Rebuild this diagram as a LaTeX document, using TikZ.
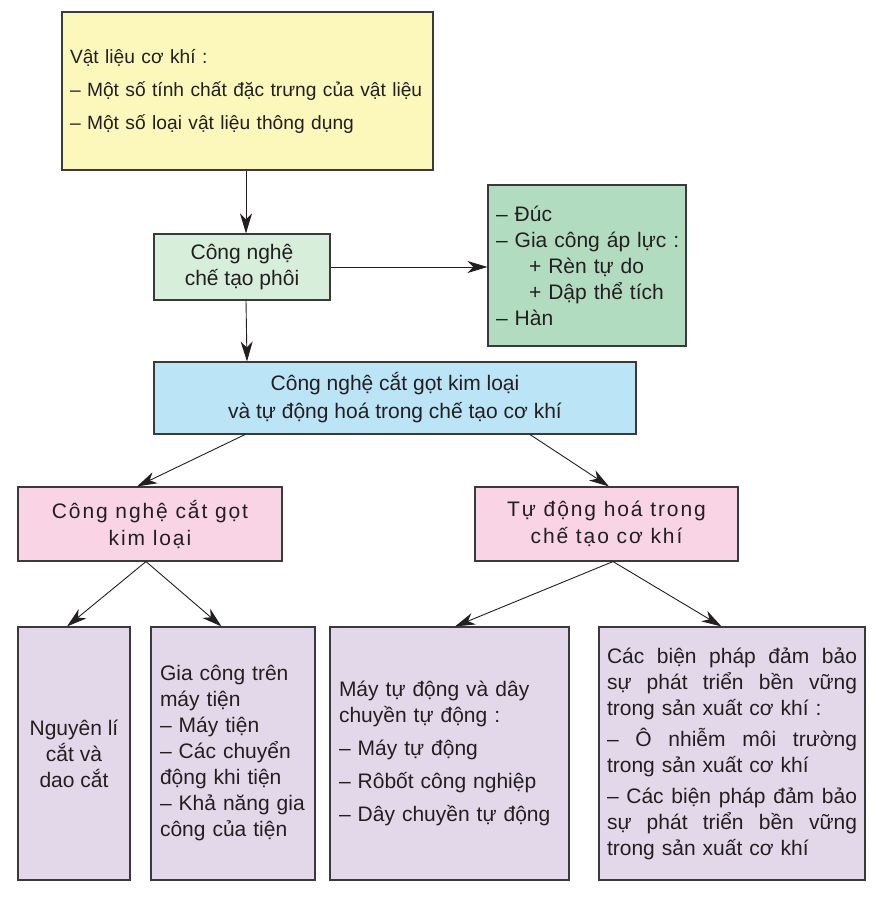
\documentclass[tikz,border=0pt]{standalone}
\usepackage{fontspec}
\setmainfont{Liberation Sans}
\usetikzlibrary{arrows.meta}
\definecolor{cyel}{HTML}{FCF7BA}
\definecolor{cgrl}{HTML}{D6EEDA}
\definecolor{cgrd}{HTML}{B2DCC0}
\definecolor{cblu}{HTML}{BCE4F7}
\definecolor{cpink}{HTML}{F9D4E4}
\definecolor{clav}{HTML}{E2D8E9}
\definecolor{cbord}{HTML}{3A3A3A}
\definecolor{ctext}{HTML}{231F20}
\newcommand{\jline}[1]{\leavevmode\hbox to 250pt{\spaceskip=0.28em plus 1fil\relax #1}}
\begin{document}
\begin{tikzpicture}[x=1pt,y=-1pt,
  box/.style={draw=cbord, line width=1.1pt, inner sep=0pt, text=ctext,
    font=\fontsize{21}{26}\selectfont},
  pinkbox/.style={box, fill=cpink, minimum width=264pt, minimum height=74pt, align=center,
    font={\fontsize{21}{27}\selectfont\addfontfeature{LetterSpace=9}}},
  lavbox/.style={box, fill=clav, minimum height=253pt},
  arr/.style={draw=ctext, line width=0.9pt, -{Stealth[length=20pt,width=12pt,inset=6pt]}}]
\useasboundingbox (0,0) rectangle (876,898);
\fill[white] (0,0) rectangle (876,898);

\node[box, fill=cyel, minimum width=371pt, minimum height=158pt, text width=355pt, align=left,
  font=\fontsize{19.2}{26}\selectfont] (yel) at (247.5,91)
  {Vật liệu cơ khí :\\[7pt] \mbox{– Một số tính chất đặc trưng của vật liệu}\\[7pt] – Một số loại vật liệu thông dụng};

\node[box, fill=cgrl, minimum width=176pt, minimum height=66pt, align=center] (cpg) at (242,267)
  {Công nghệ\\ chế tạo phôi};

\node[box, fill=cgrd, minimum width=198pt, minimum height=161pt, text width=182pt, align=left] (gb) at (587,265.5)
  {– Đúc\\ \mbox{– Gia công áp lực :}\\ \hspace*{33pt}+ Rèn tự do\\ \hspace*{33pt}+ Dập thể tích\\ – Hàn};

\node[box, fill=cblu, minimum width=482pt, minimum height=72pt, align=center,
  font=\fontsize{21}{28}\selectfont] (blue) at (395,398)
  {Công nghệ cắt gọt kim loại\\ và tự động hoá trong chế tạo cơ khí};

\node[pinkbox] (pl) at (150,524) {Công nghệ cắt gọt\\ kim loại};
\node[pinkbox, minimum width=263pt] (pr) at (606.5,524) {Tự động hoá trong\\ chế tạo cơ khí};

\node[lavbox, minimum width=112pt, align=center] (b1) at (74,753.5)
  {Nguyên lí\\ cắt và\\ dao cắt};
\node[lavbox, minimum width=164pt, text width=146pt, align=left] (b2) at (233,753.5)
  {Gia công trên\\ máy tiện\\ – Máy tiện\\ – Các chuyển\\ động khi tiện\\ – Khả năng gia\\ công của tiện};
\node[lavbox, minimum width=239pt, text width=221pt, align=left] (b3) at (449.5,753.5)
  {Máy tự động và dây\\ chuyền tự động :\\[7pt] – Máy tự động\\[7pt] – Rôbốt công nghiệp\\[7pt] – Dây chuyền tự động};
\node[lavbox, minimum width=266pt, text width=250pt, align=left] (b4) at (732,753.5)
  {\jline{Các biện pháp đảm bảo}\\ \jline{sự phát triển bền vững}\\ trong sản xuất cơ khí :\\[5pt]
   \jline{– Ô nhiễm môi trường}\\ trong sản xuất cơ khí\\[5pt]
   \jline{– Các biện pháp đảm bảo}\\ \jline{sự phát triển bền vững}\\ trong sản xuất cơ khí};

\draw[arr] ([xshift=-1.5pt]yel.south) -- ([xshift=4pt]cpg.north);
\draw[arr] ([xshift=4pt]cpg.south) -- ([xshift=-148pt]blue.north);
\draw[arr] (cpg.east) -- (cpg.east -| gb.west);
\draw[arr] ([xshift=-150pt]blue.south) -- ([xshift=-13pt]pl.north);
\draw[arr] ([xshift=135pt]blue.south) -- ([xshift=2.5pt]pr.north);
\draw[arr] ([xshift=-4pt]pl.south) -- ([xshift=-7pt]b1.north);
\draw[arr] ([xshift=-4pt]pl.south) -- ([xshift=-11.5pt]b2.north);
\draw[arr] ([xshift=6.5pt]pr.south) -- ([xshift=5.5pt]b3.north);
\draw[arr] ([xshift=6.5pt]pr.south) -- ([xshift=-10.5pt]b4.north);
\end{tikzpicture}
\end{document}
